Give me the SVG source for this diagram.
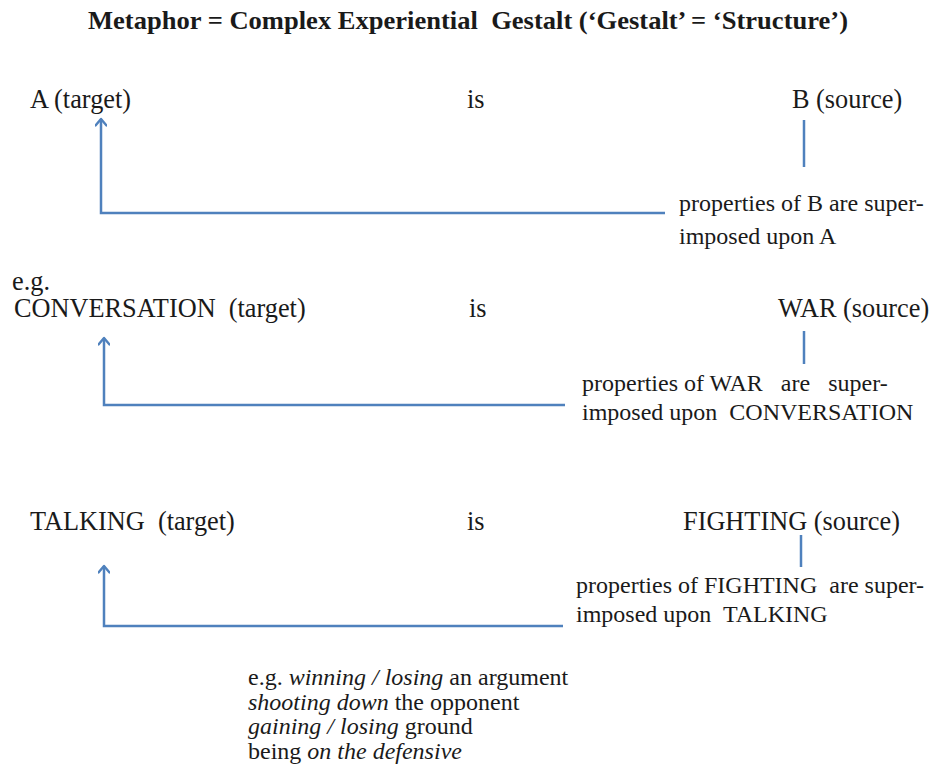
<svg xmlns="http://www.w3.org/2000/svg" width="934" height="776" viewBox="0 0 934 776">
  <style>
    text { font-family: "Liberation Serif", "Times New Roman", serif; fill: #1a1a1a; font-size: 26.3px; }
    .title { font-weight: bold; font-size: 26px; }
    .note { font-size: 24px; }
    .ex { font-size: 24px; }
    .conn { fill: none; stroke: #4f81bd; stroke-width: 2.5; }
  </style>
  <defs>
    <marker id="arrow" viewBox="0 0 12 12" refX="10" refY="6" markerWidth="12" markerHeight="12" markerUnits="userSpaceOnUse" orient="auto">
      <path d="M3.5,0.5 L10,6 L3.5,11.5" fill="none" stroke="#4f81bd" stroke-width="2.4" stroke-linecap="round" stroke-linejoin="round"/>
    </marker>
  </defs>

  <text class="title" x="88" y="29" textLength="760" lengthAdjust="spacingAndGlyphs" xml:space="preserve">Metaphor = Complex Experiential  Gestalt (‘Gestalt’ = ‘Structure’)</text>

  <!-- abstract schema -->
  <g id="a-target"><text x="30" y="108">A (target)</text></g>
  <g id="is-1"><text x="467" y="108">is</text></g>
  <g id="b-source"><text x="792" y="108">B (source)</text></g>
  <g id="note-1">
    <text class="note" x="679" y="211">properties of B are super-</text>
    <text class="note" x="679" y="244">imposed upon A</text>
  </g>

  <!-- first example -->
  <g id="eg-1"><text x="12" y="290">e.g.</text></g>
  <g id="conversation-target"><text x="14" y="317" xml:space="preserve">CONVERSATION  (target)</text></g>
  <g id="is-2"><text x="469" y="317">is</text></g>
  <g id="war-source"><text x="778" y="317">WAR (source)</text></g>
  <g id="note-2">
    <text class="note" x="582" y="391">properties of WAR<tspan dx="12"> are</tspan><tspan dx="12"> super-</tspan></text>
    <text class="note" x="582" y="420" xml:space="preserve">imposed upon  CONVERSATION</text>
  </g>

  <!-- second example -->
  <g id="talking-target"><text x="30" y="530" xml:space="preserve">TALKING  (target)</text></g>
  <g id="is-3"><text x="467" y="530">is</text></g>
  <g id="fighting-source"><text x="683" y="530">FIGHTING (source)</text></g>
  <g id="note-3">
    <text class="note" x="576" y="593" xml:space="preserve">properties of FIGHTING  are super-</text>
    <text class="note" x="576" y="622" xml:space="preserve">imposed upon  TALKING</text>
  </g>

  <!-- idiom examples -->
  <g id="examples">
    <text class="ex" x="248" y="685">e.g. <tspan font-style="italic">winning / losing</tspan> an argument</text>
    <text class="ex" x="248" y="710"><tspan font-style="italic">shooting down</tspan> the opponent</text>
    <text class="ex" x="248" y="734"><tspan font-style="italic">gaining / losing</tspan> ground</text>
    <text class="ex" x="248" y="759">being <tspan font-style="italic">on the defensive</tspan></text>
  </g>

  <g id="connectors">
    <line class="conn" x1="804" y1="120" x2="804" y2="167"/>
    <path class="conn" d="M665,213 L101,213 L101,119" marker-end="url(#arrow)"/>

    <line class="conn" x1="804" y1="331" x2="804" y2="364"/>
    <path class="conn" d="M565,405 L104,405 L104,338" marker-end="url(#arrow)"/>

    <line class="conn" x1="801" y1="535" x2="801" y2="567"/>
    <path class="conn" d="M563,626 L104,626 L104,566" marker-end="url(#arrow)"/>
  </g>
</svg>
